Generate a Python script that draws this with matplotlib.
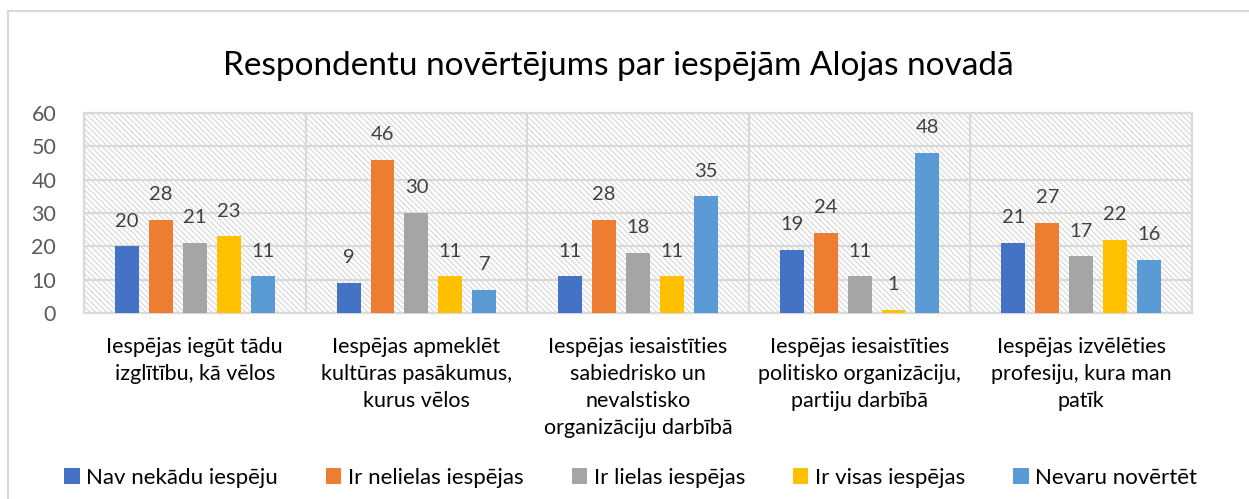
import matplotlib
matplotlib.use("Agg")
import matplotlib.pyplot as plt
import numpy as np
from matplotlib.patches import Rectangle
from matplotlib.lines import Line2D

plt.rcParams['font.family'] = ['Lato', 'DejaVu Sans']
plt.rcParams['hatch.color'] = '#d6d6d6'
plt.rcParams['hatch.linewidth'] = 0.8

categories = [
    "Iespējas iegūt tādu\nizglītību, kā vēlos",
    "Iespējas apmeklēt\nkultūras pasākumus,\nkurus vēlos",
    "Iespējas iesaistīties\nsabiedrisko un\nnevalstisko\norganizāciju darbībā",
    "Iespējas iesaistīties\npolitisko organizāciju,\npartiju darbībā",
    "Iespējas izvēlēties\nprofesiju, kura man\npatīk",
]
series_names = ["Nav nekādu iespēju", "Ir nelielas iespējas", "Ir lielas iespējas",
                "Ir visas iespējas", "Nevaru novērtēt"]
nav = [20, 9, 11, 19, 21]
nelielas = [28, 46, 28, 24, 27]
lielas = [21, 30, 18, 11, 17]
visas = [23, 11, 11, 1, 22]
nevaru = [11, 7, 35, 48, 16]
series = [nav, nelielas, lielas, visas, nevaru]
colors = ['#4472C4', '#ED7D31', '#A5A5A5', '#FFC000', '#5B9BD5']
title = "Respondentu novērtējums par iespējām Alojas novadā"

fig = plt.figure(figsize=(12.49, 4.99), dpi=100)
ax = fig.add_axes([84/1249, 1-313/499, (1192-84)/1249, 200/499])

x = np.arange(len(categories))
slot = 0.153
width = 0.108
for i, (vals, c, name) in enumerate(zip(series, colors, series_names)):
    pos = x + (i - 2) * slot
    bars = ax.bar(pos, vals, width, color=c, label=name, zorder=3)
    for b, v in zip(bars, vals):
        ax.annotate(str(v), (b.get_x() + b.get_width()/2, v), xytext=(0, 12),
                    textcoords='offset points', ha='center', va='bottom',
                    fontsize=14.5, color='#404040', zorder=4)

ax.set_xlim(-0.5, len(categories) - 0.5)
ax.set_ylim(0, 60)
ax.set_yticks(range(0, 61, 10))
ax.set_xticks(x)
ax.set_xticklabels(categories, fontsize=15.5, color='#000000', linespacing=1.45)
ax.set_xticks(np.arange(len(categories) + 1) - 0.5, minor=True)
ax.tick_params(axis='x', which='both', length=0, pad=17)
ax.tick_params(axis='y', length=0, pad=20, labelsize=15.5, labelcolor='#595959')
ax.grid(axis='y', color='#d9d9d9', linewidth=1.6, zorder=1)
ax.grid(axis='x', which='minor', color='#d9d9d9', linewidth=1.6, zorder=1)
ax.grid(axis='x', which='major', visible=False)
for s in ax.spines.values():
    s.set_color('#d9d9d9')
    s.set_linewidth(1.6)
ax.set_facecolor('white')
ax.add_patch(Rectangle((0, 0), 1, 1, transform=ax.transAxes, facecolor='none',
                       hatch='\\\\\\\\\\\\', edgecolor='#d6d6d6', linewidth=0, zorder=0))

fig.text(0.495, 1-66/499, title, ha='center', va='center', fontsize=24, color='#000000')

handles = [Rectangle((0, 0), 1, 1, facecolor=c) for c in colors]
fig.legend(handles, series_names, loc='center', bbox_to_anchor=(0.505, 1-478/499),
           ncol=5, frameon=False, fontsize=16, handlelength=0.7, handleheight=0.7,
           handletextpad=0.3, columnspacing=2.15)

# outer chart border
fig.add_artist(Line2D([8/1249, 8/1249], [0, 1-11/499], transform=fig.transFigure,
                      color='#d9d9d9', linewidth=1.5))
fig.add_artist(Line2D([8/1249, 1], [1-11/499, 1-11/499], transform=fig.transFigure,
                      color='#d9d9d9', linewidth=1.5))

fig.savefig("out.png", dpi=100)
